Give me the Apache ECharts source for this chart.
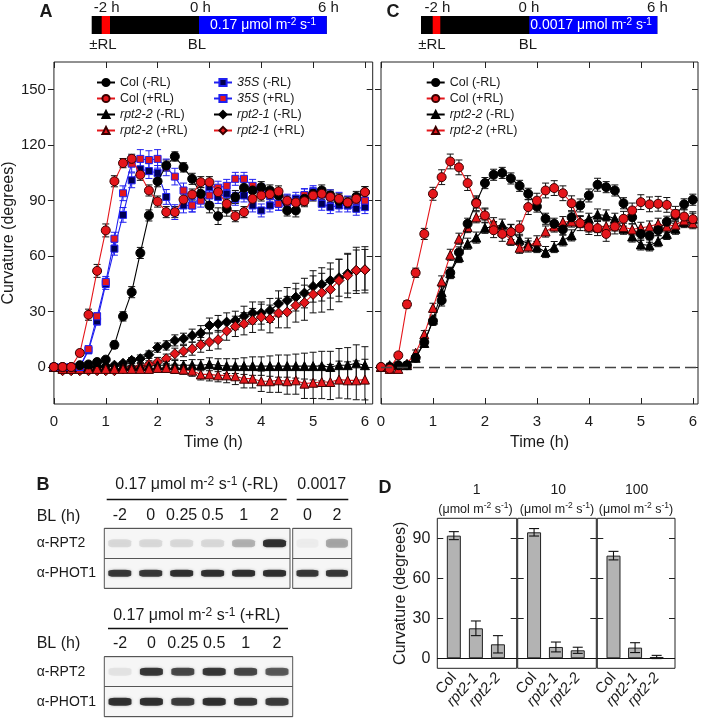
<!DOCTYPE html>
<html><head><meta charset="utf-8">
<script src="https://cdn.jsdelivr.net/npm/echarts@6/dist/echarts.min.js"></script>
<style>html,body{margin:0;padding:0;background:#fff}#c{width:705px;height:719px}</style>
</head><body><div id="c"></div>
<script>
// ---------- DATA ----------
const timeH = [0,0.167,0.333,0.5,0.667,0.833,1,1.167,1.333,1.5,1.667,1.833,2,2.167,2.333,2.5,2.667,2.833,3,3.167,3.333,3.5,3.667,3.833,4,4.167,4.333,4.5,4.667,4.833,5,5.167,5.333,5.5,5.667,5.833,6];
const timeTicks = [0,1,2,3,4,5,6];
const curvTicks = [0,30,60,90,120,150];

// Panel A (0.17 umol m-2 s-1)
const aColMinus   = [0,0,0,1,1.4,2.7,4,12,27.4,40.5,61.7,82,100.5,109,113.9,108,101.8,93.7,87.4,81.6,85.6,92,97,95.5,97.3,95.5,92.8,84.7,84.7,91,93.7,95.5,92.8,90,89,92,94.6];
const aColPlus    = [0,0,0,7.6,28.3,52,73.9,100.5,110.3,112.6,104,95.5,89.5,83.8,83.8,90.6,93.3,100,100,94.6,88.3,81.6,83.8,91,92.8,93.5,95,90,89,89.7,92.8,93.7,92,91,89,91,94.6];
const a35SMinus   = [0,0,0,0,9,24.7,45,64,82.3,101,107,106,105,92,83.8,87.4,87.4,92,97.3,92,93.7,91,92.8,87.4,84.7,87.4,88.3,90,91,92.8,94.6,88.3,86.5,87.4,87.4,85.6,86.5];
const a35SPlus    = [0,0,0,0,9.7,27.4,46,69.4,94,110,112.6,112,112.6,108,103,95.5,87.4,90,92.8,97,98,101.8,101.8,98,95.5,92.8,88.3,89,89.5,93,93.7,93.3,92.3,91,89,90,90];
const aR22Minus   = [0,-0.5,0,0,0,0,0.5,0.5,0.5,0.5,0.5,0.5,1,1,1,1,1,1,1.5,1,0.5,0.5,0.5,0.5,0.5,0.5,0.5,0.5,0.5,0.5,0.5,0.5,0,1,1,2,1];
const aR22Plus    = [0,-1,-1,-1,-1,-1,-1,-1,-1,-1,-1,-1,-0.5,-0.5,-1,-1.4,-2,-4,-4,-4.5,-4.5,-5,-6.3,-6.3,-7.7,-7.7,-7.2,-7.7,-7.2,-9,-8.5,-8.1,-8.1,-6.8,-7.2,-7.2,-6.8];
const aR21Minus   = [0,0,0,0,0,0,0.5,1,2,3.6,4.5,6.7,10.5,11.7,14.4,15.3,17,18.4,22.5,23.4,24.3,25.2,27.4,29.2,29.2,30.6,34.2,36,37.8,40,43.6,44.7,46.8,48.3,50.5,52.3,52.6];
const aR21Plus    = [0,-2,-2,-2,-2,-2,-2,-2,-1,-0.5,0,1.4,2.7,4.5,7.2,8.6,9.9,12,13.5,14.8,19.5,22,23.4,25.2,27,26,29.2,29.7,33.3,34.8,39.3,40.2,42,46.8,49.5,52.3,52.6];
const aColMinusErr= [0,0.5,0.5,0.5,1,1,1,2,2.5,3,3,3,3,3,2.5,2.5,3,3.5,4,4.5,4,3.5,3,3,3,3,3,3,3.5,3.5,3,3,3,3,3,3,3];
const aColPlusErr = [0,0.5,1,1.5,3,3.5,3.5,3,2.5,2.5,3,3,3,3,3,3,3,3,3,3,3,3,3,3,3,3,3,3,3,3,3,3,3,3,3,3,3];
const a35SMinusErr= [0,0.5,0.5,0.5,1,2,3,3.5,4,4,4,4,4,4,4,4,3.5,3.5,3.5,3.5,3.5,3.5,3.5,3.5,3.5,3.5,3.5,3.5,3.5,3.5,3.5,3.5,3.5,3.5,3.5,3.5,3.5];
const a35SPlusErr = [0,0.5,0.5,0.5,1,2,3,3.5,4,4.5,5,5,5,4.5,4.5,4,3.5,3.5,3.5,3.5,3.5,3.5,3.5,3.5,3.5,3.5,3.5,3.5,3.5,3.5,3.5,3.5,3.5,3.5,3.5,3.5,3.5];
const aR22MinusErr= [0,1,1,1,1,1,1,1,1.5,1.5,1.5,2,2,2,2.5,2.5,3,3,3.5,3.5,4,4,4.5,5,5,5.5,6,6,6.5,7,7.5,8,8.5,9,9.5,10,10];
const aR22PlusErr = [0,1,1,1,1,1,1,1,1.5,1.5,1.5,2,2,2,2.5,2.5,3,3,3.5,3.5,4,4.5,5,5,5.5,6,6.5,7,7.5,8,8.5,9,9.5,10,10,10.5,11];
const aR21MinusErr= [0,1,1,1,1,1,1,1,1,1.5,2,2,2.5,2.5,3,3,3.5,4,4,4.5,5,5,5.5,6,6,6.5,7,7,7.5,8,8.5,9,9.5,10,10.5,11,11];
const aR21PlusErr = [0,1,1,1,1,1,1,1,1,1.5,2,2,2.5,2.5,3,3,3.5,4,4.5,5,5,5.5,6,6.5,7,7.5,8,8.5,9,9.5,10,10.5,11,11.5,12,12.5,12.5];

// Panel C (0.0017 umol m-2 s-1)
const cColMinus   = [0,0,1,1,5,13.5,25,36,51,62,77.5,89,99.5,104,105,102,98,93.7,86.8,80.2,77.5,74.4,81,87.4,92.8,98.6,97.3,95.5,88.6,81,72,71,74,78.6,82,88,90.5];
const cColPlus    = [0,-1,6.3,33.9,51,72,93.7,102.7,111.2,108,99.5,88.6,82,74,72,73,75,86.5,90,95.5,96.8,94,88.6,77.8,75.7,75.1,72,76,80.2,84.7,89.2,88,88.3,87.7,82.9,81.4,80];
const cR22Minus   = [0,1,1,1,5,13,25.6,40.5,50.8,59.5,66.7,70,75.3,75.7,77,74.2,68.8,66.7,64.9,62.2,64.9,68.5,71.2,78.4,80.2,82.5,82,80.2,74.8,70.6,66.3,65.8,68.1,72,74.8,78.4,80.2];
const cR22Plus    = [0,-1,-1,1.8,7.7,17.7,32,46.3,60.7,69.4,75.7,81,82.5,77.8,73.3,68.8,64.5,65.2,68,73.3,76,78.4,78.7,78.7,76,75.7,76.2,76.6,75.7,74.4,75.3,76,77.5,76,77,79.3,77.8];
const cColMinusErr= [0,0.5,1,1,1.5,2,2.5,3,3,3,3,3,3,3,3,3,3,3,3,3,3,3,3,3.5,3.5,3.5,3,3,3,3.5,3.5,3.5,3,3,3,3,3];
const cColPlusErr = [0,1,1.5,2,2.5,3,3.5,4,4,4,4,4,4,4,4,4,4,4,4,4,4,4,4,4,4,4,4,4,4,4,4,4,4,4,4,4,4];
const cR22MinusErr= [0,1,1,1,1.5,2,2.5,3,3,3,3,3,3,3,3,3,3,3,3,3,3,3,3,3,3,3,3,3,3,3,3,3,3,3,3,3,3];
const cR22PlusErr = [0,1,1,1,1.5,2,2.5,3,3,3,3,3,3,3,3,3,3,3,3,3,3,3,3,3,3,3,3,3,3,3,3,3,3,3,3,3,3];

// Panel D
const dCats = ['Col','rpt2-1','rpt2-2'];
const dIrradiance = ['1','10','100'];
const dTicks = [0,30,60,90];
const d1Vals = [92,22.5,10.5];   const d1Err = [3,5.5,6.5];
const d10Vals = [94.5,8.5,6];    const d10Err = [2.8,3.7,2.3];
const d100Vals = [77,8,1];       const d100Err = [3.2,3.7,1.2];

// Panel B (immunoblot band intensities, relative)
const blotRows = ['α-RPT2','α-PHOT1'];
const lanesMinusRL = ['-2','0','0.25','0.5','1','2'];
const lanesLow = ['0','2'];
const lanesPlusRL = ['-2','0','0.25','0.5','1','2'];
const rpt2MinusRL = [0.12,0.12,0.12,0.12,0.3,1.0];
const phot1MinusRL = [0.95,0.95,1,1,1,1];
const rpt2Low = [0.04,0.35];
const phot1Low = [0.95,0.95];
const rpt2PlusRL = [0.08,0.95,0.85,0.95,0.85,0.75];
const phot1PlusRL = [1,1,0.92,1,0.95,0.92];

// ---------- STYLE ----------
const FONT = 'Liberation Sans, Arial, sans-serif';
const INK = '#1a1a1a';
const RED = '#e5161b';
const BLUE = '#2020f0';

function lineSeries(name, vals, ai, sym, size, fill, border, lc, z) {
  return {type:'line', name, xAxisIndex: ai, yAxisIndex: ai,
    data: timeH.map((t,i)=>[t, vals[i]]),
    symbol: sym, symbolSize: size, showSymbol: true, showAllSymbol: true, z: z,
    lineStyle: {color: lc, width: 1.1}, itemStyle: {color: fill, borderColor: border, borderWidth: 1},
    emphasis: {disabled: true}, silent: true};
}
function errSeries(vals, errs, ai, color, z) {
  return {type:'custom', xAxisIndex: ai, yAxisIndex: ai, silent: true, z: z,
    data: timeH.map((t,i)=>[t, vals[i], errs[i]]),
    encode: {x: 0, y: 1},
    renderItem(params, api) {
      const t = api.value(0), v = api.value(1), e = api.value(2);
      if (!e) return null;
      const p1 = api.coord([t, v + e]), p2 = api.coord([t, v - e]);
      const w = 3.5, st = {stroke: color, lineWidth: 1};
      return {type:'group', children:[
        {type:'line', shape:{x1:p1[0],y1:p1[1],x2:p2[0],y2:p2[1]}, style:st},
        {type:'line', shape:{x1:p1[0]-w,y1:p1[1],x2:p1[0]+w,y2:p1[1]}, style:st},
        {type:'line', shape:{x1:p2[0]-w,y1:p2[1],x2:p2[0]+w,y2:p2[1]}, style:st}]};
    }};
}
function barErr(vals, errs, ai) {
  return {type:'custom', xAxisIndex: ai, yAxisIndex: ai, silent: true, z: 5,
    data: vals.map((v,i)=>[i, v, errs[i]]), encode:{x:0,y:1},
    renderItem(params, api) {
      const x = api.value(0), v = api.value(1), e = api.value(2);
      const p1 = api.coord([x, v + e]), p2 = api.coord([x, v - e]);
      const w = 5, st = {stroke: '#111', lineWidth: 1.1};
      return {type:'group', children:[
        {type:'line', shape:{x1:p1[0],y1:p1[1],x2:p2[0],y2:p2[1]}, style:st},
        {type:'line', shape:{x1:p1[0]-w,y1:p1[1],x2:p1[0]+w,y2:p1[1]}, style:st},
        {type:'line', shape:{x1:p2[0]-w,y1:p2[1],x2:p2[0]+w,y2:p2[1]}, style:st}]};
    }};
}
function blotSeries(rowVals, row, ai, size) {
  return {type:'scatter', xAxisIndex: ai, yAxisIndex: ai, silent: true,
    data: rowVals.map((v,i)=>[i, row, v]),
    symbol: 'roundRect', symbolSize: size,
    itemStyle: {color: p => 'rgba(12,12,12,' + p.data[2] + ')', shadowBlur: 3, shadowColor: 'rgba(0,0,0,0.35)'}};
}

const legendFmt = name => {
  const n = name.trim(); const k = n.indexOf(' ');
  const g = n.slice(0,k), rest = n.slice(k);
  return g === 'Col' ? n : '{i|' + g + '}' + rest;
};
const legendText = {fontSize: 12.5, fontFamily: FONT, color: INK, lineHeight: 15,
  rich: {i: {fontStyle: 'italic', fontSize: 12.5, fontFamily: FONT, color: INK}}};

const supRich = (col, fs) => ({s: {fontSize: fs - 4, fontFamily: FONT, fill: col, color: col, padding: [0,0,7,0]}});

function txt(x, y, text, fs, opts) {
  return Object.assign({type:'text', x, y, silent: true,
    style: Object.assign({text, fontSize: fs, fontFamily: FONT, fill: INK, align:'center', verticalAlign:'middle'}, (opts||{}).style||{})},
    (opts||{}).el || {});
}
function hline(x1, x2, y) {
  return {type:'line', silent: true, shape:{x1, y1:y, x2, y2:y}, style:{stroke:'#111', lineWidth:1.3}};
}
function rect(x, y, w, h, fill) {
  return {type:'rect', silent: true, shape:{x, y, width:w, height:h}, style:{fill}};
}

// ---------- AXES ----------
const grids = [
  {left:52, top:62, width:320.7, height:342},
  {left:381, top:62, width:317, height:342},
  {left:437.3, top:518.3, width:79.4, height:150},
  {left:517.7, top:518.3, width:78.6, height:150},
  {left:597.3, top:518.3, width:77.7, height:150},
  {left:104.3, top:528.3, width:185.7, height:60},
  {left:292.7, top:528.3, width:59, height:60},
  {left:104.3, top:656.7, width:188.4, height:60}
].map(g => Object.assign({show:true, borderColor:'#222', borderWidth:1, backgroundColor:'transparent', containLabel:false}, g));
grids[5].backgroundColor = grids[6].backgroundColor = grids[7].backgroundColor = '#f6f6f6';
grids[5].borderColor = grids[6].borderColor = grids[7].borderColor = '#555';

const lbl = (fs, extra) => Object.assign({color: INK, fontSize: fs, fontFamily: FONT}, extra||{});
const noLine = {show:false, onZero:false};

function timeX(gi, max, pos, showLabel) {
  return {type:'value', gridIndex: gi, position: pos, min: 0, max,
    axisLine: noLine, splitLine:{show:false},
    axisTick:{show:true, inside:true, length:6, customValues: timeTicks, lineStyle:{color:'#222'}},
    axisLabel: lbl(15, {show: showLabel, margin: 10, customValues: timeTicks}),
    name: showLabel ? 'Time (h)' : '', nameLocation:'middle', nameGap: 31,
    nameTextStyle: lbl(16)};
}
function curvY(gi, pos, showLabel, inside, name) {
  return {type:'value', gridIndex: gi, position: pos, min: -20, max: 165,
    axisLine: noLine, splitLine:{show:false},
    axisTick:{show:true, inside, length:6, customValues: curvTicks, lineStyle:{color:'#222'}},
    axisLabel: lbl(15, {show: showLabel, margin: 8, customValues: curvTicks}),
    name: name || '', nameLocation:'middle', nameGap: 31, nameTextStyle: lbl(16)};
}
function dX(gi) {
  return {type:'value', gridIndex: gi, min: -0.75, max: 2.85,
    axisLine: noLine, splitLine:{show:false}, axisTick:{show:false},
    axisLabel: lbl(15, {customValues:[0,1,2], rotate: 48, margin: 7,
      formatter: v => v === 0 ? dCats[0] : '{i|' + dCats[v] + '}',
      rich: {i: {fontStyle:'italic', fontSize:15, fontFamily: FONT, color: INK}}})};
}
function dY(gi, pos, showLabel, name) {
  return {type:'value', gridIndex: gi, position: pos, min: -7.5, max: 105,
    axisLine: noLine, splitLine:{show:false},
    axisTick:{show:true, inside:true, length:6, customValues: dTicks, lineStyle:{color:'#222'}},
    axisLabel: lbl(16, {show: showLabel, margin: 7, customValues: dTicks}),
    name: name || '', nameLocation:'middle', nameGap: 27, nameTextStyle: lbl(16)};
}
function blotX(gi, lanes) {
  return {type:'category', gridIndex: gi, position:'top', data: lanes,
    axisLine: noLine, axisTick:{show:false}, splitLine:{show:false},
    axisLabel: lbl(16, {margin: 5, interval: 0})};
}
function blotY(gi, showLabel) {
  return {type:'category', gridIndex: gi, data: blotRows, inverse: true,
    axisLine: noLine, axisTick:{show:false},
    splitLine:{show:true, interval:0, lineStyle:{color:'#555', width:1}},
    axisLabel: lbl(14, {show: showLabel, align:'left', margin: 67.6})};
}

const xAxis = [
  timeX(0, 6.15, 'bottom', true), timeX(0, 6.15, 'top', false),
  timeX(1, 6.1, 'bottom', true), timeX(1, 6.1, 'top', false),
  dX(2), dX(3), dX(4),
  blotX(5, lanesMinusRL), blotX(6, lanesLow), blotX(7, lanesPlusRL)
];
const yAxis = [
  curvY(0, 'left', true, false, 'Curvature (degrees)'), curvY(0, 'right', false, true),
  curvY(1, 'left', false, false), curvY(1, 'right', false, true),
  dY(2, 'left', true, 'Curvature (degrees)'), dY(3, 'left', false), dY(4, 'left', false),
  blotY(5, true), blotY(6, false), blotY(7, true),
  dY(2, 'right', false), dY(3, 'right', false), dY(4, 'right', false)
];

// ---------- SERIES ----------
const series = [
  // Panel A error bars
  errSeries(aR21Minus, aR21MinusErr, 0, '#111', 1),
  errSeries(aR21Plus, aR21PlusErr, 0, '#111', 1),
  errSeries(aR22Minus, aR22MinusErr, 0, '#111', 1),
  errSeries(aR22Plus, aR22PlusErr, 0, '#111', 1),
  errSeries(aColMinus, aColMinusErr, 0, '#111', 1),
  errSeries(aColPlus, aColPlusErr, 0, '#111', 1),
  errSeries(a35SMinus, a35SMinusErr, 0, BLUE, 1),
  errSeries(a35SPlus, a35SPlusErr, 0, BLUE, 1),
  // Panel A lines
  lineSeries('rpt2-1 (-RL)', aR21Minus, 0, 'diamond', 10, '#000', '#000', '#000', 3),
  lineSeries('rpt2-1 (+RL)', aR21Plus, 0, 'diamond', 10, RED, '#3a0000', RED, 3),
  lineSeries('rpt2-2 (-RL)', aR22Minus, 0, 'triangle', 9, '#000', '#000', '#000', 3),
  lineSeries('rpt2-2 (+RL)', aR22Plus, 0, 'triangle', 9, RED, '#3a0000', RED, 3),
  lineSeries('35S (-RL)', a35SMinus, 0, 'rect', 7, '#000050', BLUE, BLUE, 4),
  lineSeries('35S (+RL)', a35SPlus, 0, 'rect', 7, RED, BLUE, BLUE, 4),
  lineSeries('Col (-RL)', aColMinus, 0, 'circle', 9, '#000', '#000', '#000', 5),
  lineSeries('Col (+RL)', aColPlus, 0, 'circle', 9, RED, '#3a0000', RED, 5),
  // Panel C
  errSeries(cR22Minus, cR22MinusErr, 2, '#111', 1),
  errSeries(cR22Plus, cR22PlusErr, 2, '#111', 1),
  errSeries(cColMinus, cColMinusErr, 2, '#111', 1),
  errSeries(cColPlus, cColPlusErr, 2, '#111', 1),
  Object.assign(lineSeries('rpt2-2 (-RL) ', cR22Minus, 2, 'triangle', 9, '#000', '#000', '#000', 3), {
    markLine: {silent:true, symbol:['none','none'], label:{show:false}, animation:false,
      lineStyle:{color:'#444', width:1.3, type:[11,5]}, data:[{yAxis:0}]}}),
  lineSeries('rpt2-2 (+RL) ', cR22Plus, 2, 'triangle', 9, RED, '#3a0000', RED, 3),
  lineSeries('Col (-RL) ', cColMinus, 2, 'circle', 9, '#000', '#000', '#000', 4),
  lineSeries('Col (+RL) ', cColPlus, 2, 'circle', 9, RED, '#3a0000', RED, 4)
];
// Panel D bars
[[d1Vals, d1Err], [d10Vals, d10Err], [d100Vals, d100Err]].forEach((pair, j) => {
  const ai = 4 + j;
  series.push({type:'bar', xAxisIndex: ai, yAxisIndex: ai, barWidth: 14, silent: true, z: 3,
    data: pair[0].map((v,i)=>[i, v]),
    itemStyle: {color:'#b3b3b3', borderColor:'#222', borderWidth:1},
    markLine: {silent:true, symbol:['none','none'], label:{show:false}, animation:false,
      lineStyle:{color:'#111', width:1.1, type:'solid'}, data:[{yAxis:0}]}});
  series.push(barErr(pair[0], pair[1], ai));
});
// Panel B blots
series.push(blotSeries(rpt2MinusRL, 0, 7, [23, 8]));
series.push(blotSeries(phot1MinusRL, 1, 7, [23, 7]));
series.push(blotSeries(rpt2Low, 0, 8, [22, 9]));
series.push(blotSeries(phot1Low, 1, 8, [22, 7]));
series.push(blotSeries(rpt2PlusRL, 0, 9, [23, 8]));
series.push(blotSeries(phot1PlusRL, 1, 9, [23, 8]));

// ---------- GRAPHICS (schematics & annotations) ----------
const bold = {style:{fontWeight:'bold', fontSize:18}};
const graphic = [
  // Panel A schematic
  rect(91.7, 16, 235, 18, '#000'), rect(101.7, 16, 8.3, 18, '#ff0000'), rect(199, 16, 127.7, 18, '#0000ff'),
  txt(263, 25.5, '0.17 μmol m{s|-2} s{s|-1}', 14, {style:{fill:'#fff', rich: supRich('#fff', 14)}}),
  txt(106.7, 8, '-2 h', 15), txt(200.5, 8, '0 h', 15), txt(328.5, 8, '6 h', 15),
  txt(103, 45, '±RL', 15), txt(197, 45, 'BL', 15),
  txt(46, 12, 'A', 18, bold),
  // Panel C schematic
  rect(421, 16, 236.3, 18, '#000'), rect(432.7, 16, 7.6, 18, '#ff0000'), rect(529.3, 16, 128, 18, '#0000ff'),
  txt(591, 25.5, '0.0017 μmol m{s|-2} s{s|-1}', 14, {style:{fill:'#fff', rich: supRich('#fff', 14)}}),
  txt(437.5, 8, '-2 h', 15), txt(529, 8, '0 h', 15), txt(657.5, 8, '6 h', 15),
  txt(432, 45, '±RL', 15), txt(528, 45, 'BL', 15),
  txt(393, 12, 'C', 18, bold),
  // Panel B labels
  txt(43, 485, 'B', 18, bold),
  txt(196.7, 485, '0.17 μmol m{s|-2} s{s|-1} (-RL)', 16, {style:{rich: supRich(INK, 16)}}),
  hline(106.7, 286.7, 499.5),
  txt(321.7, 485, '0.0017', 16), hline(296.7, 348.3, 499.5),
  txt(36.7, 517, 'BL (h)', 16, {style:{align:'left'}}),
  txt(196.7, 616, '0.17 μmol m{s|-2} s{s|-1} (+RL)', 16, {style:{rich: supRich(INK, 16)}}),
  hline(108, 288, 628.5),
  txt(36.7, 643.5, 'BL (h)', 16, {style:{align:'left'}}),
  // Panel D labels
  txt(385, 488, 'D', 18, bold),
  txt(476.7, 490, dIrradiance[0], 14), txt(558.3, 490, dIrradiance[1], 14), txt(636.7, 490, dIrradiance[2], 14),
  txt(475.5, 509.5, '(μmol m{s|-2} s{s|-1})', 12.5, {style:{rich: supRich(INK, 12.5)}}),
  txt(557, 509.5, '(μmol m{s|-2} s{s|-1})', 12.5, {style:{rich: supRich(INK, 12.5)}}),
  txt(636, 509.5, '(μmol m{s|-2} s{s|-1})', 12.5, {style:{rich: supRich(INK, 12.5)}})
];

const legendBase = {orient:'vertical', itemWidth:18, itemHeight:9, itemGap:1, selectedMode:false,
  formatter: legendFmt, textStyle: legendText, padding: 0};
const option = {
  animation: false,
  textStyle: {fontFamily: FONT},
  grid: grids, xAxis, yAxis, series, graphic,
  legend: [
    Object.assign({left: 96, top: 75, data:['Col (-RL)','Col (+RL)','rpt2-2 (-RL)','rpt2-2 (+RL)']}, legendBase),
    Object.assign({left: 213, top: 75, data:['35S (-RL)','35S (+RL)','rpt2-1 (-RL)','rpt2-1 (+RL)']}, legendBase),
    Object.assign({left: 425.7, top: 75, data:['Col (-RL) ','Col (+RL) ','rpt2-2 (-RL) ','rpt2-2 (+RL) ']}, legendBase)
  ]
};
const chart = echarts.init(document.getElementById('c'), null, {renderer:'canvas'});
chart.setOption(option);
</script>
</body></html>
